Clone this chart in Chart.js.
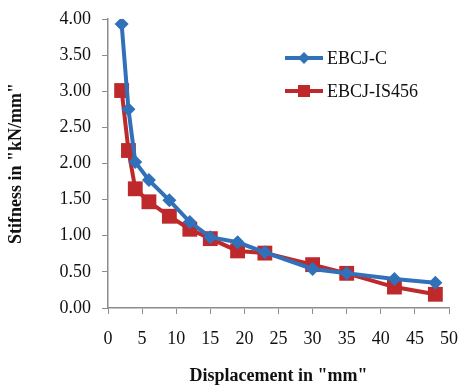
<!DOCTYPE html>
<html>
<head>
<meta charset="utf-8">
<script src="https://cdn.jsdelivr.net/npm/chart.js@4.4.1/dist/chart.umd.min.js"></script>
<style>
  html, body { margin: 0; padding: 0; background: #fff; }
  #wrap { width: 463px; height: 390px; position: relative; }
</style>
</head>
<body>
<div id="wrap"><canvas id="stiffCanvas"></canvas></div>
<script>
const displacement = [2, 3, 4, 6, 9, 12, 15, 19, 23, 30, 35, 42, 48]
const stiffnessC = [3.93, 2.75, 2.02, 1.77, 1.49, 1.19, 0.98, 0.91, 0.77, 0.54, 0.48, 0.40, 0.35]
const stiffnessIS = [3.01, 2.18, 1.65, 1.47, 1.27, 1.09, 0.96, 0.79, 0.76, 0.60, 0.48, 0.29, 0.19]
const seriesNames = ["EBCJ-C", "EBCJ-IS456"]

const blue = "#3071BA"
const red = "#BE2A2C"
const serif = "'Liberation Serif', 'Times New Roman', serif"

// legend drawn inside the plot, top right
const innerLegend = {
    id: "innerLegend",
    afterDraw(chart) {
        const ctx = chart.ctx
        const rows = [{ y: 58, ds: chart.data.datasets[0] }, { y: 91, ds: chart.data.datasets[1] }]
        ctx.save()
        rows.forEach(r => {
            ctx.strokeStyle = r.ds.borderColor
            ctx.lineWidth = 4
            ctx.beginPath()
            ctx.moveTo(285, r.y)
            ctx.lineTo(323, r.y)
            ctx.stroke()
            ctx.fillStyle = r.ds.backgroundColor
            ctx.beginPath()
            if (r.ds.pointStyle === "rectRot") {
                ctx.moveTo(304, r.y - 6)
                ctx.lineTo(310, r.y)
                ctx.lineTo(304, r.y + 6)
                ctx.lineTo(298, r.y)
            } else {
                ctx.rect(298, r.y - 6, 12, 12)
            }
            ctx.fill()
            ctx.fillStyle = "#111"
            ctx.font = "18px " + serif
            ctx.textBaseline = "middle"
            ctx.fillText(r.ds.label, 327, r.y + 1)
        })
        ctx.restore()
    }
}

const stiffCanvas = document.getElementById("stiffCanvas")

const stiffChart = new Chart(stiffCanvas, {
    type: "line",
    data: {
        datasets: [{
            label: seriesNames[0],
            data: displacement.map((d, i) => ({ x: d, y: stiffnessC[i] })),
            borderColor: blue,
            backgroundColor: blue,
            borderWidth: 4,
            pointStyle: "rectRot",
            pointRadius: 7,
            pointBorderWidth: 0,
            tension: 0
        }, {
            label: seriesNames[1],
            data: displacement.map((d, i) => ({ x: d, y: stiffnessIS[i] })),
            borderColor: red,
            backgroundColor: red,
            borderWidth: 4,
            pointStyle: "rect",
            pointRadius: 10.5,
            pointBorderWidth: 0,
            tension: 0
        }]
    },
    options: {
        responsive: true,
        maintainAspectRatio: false,
        animation: false,
        layout: { padding: { left: 6, right: 14, top: 19, bottom: 2 } },
        plugins: {
            legend: { display: false },
            tooltip: { enabled: false }
        },
        scales: {
            x: {
                type: "linear",
                min: 0,
                max: 50,
                afterFit: s => { s.height = 80; s.paddingRight = 0; s.paddingLeft = 0 },
                ticks: {
                    stepSize: 5,
                    padding: 14,
                    color: "#111",
                    font: { family: serif, size: 18 }
                },
                grid: { display: true, drawOnChartArea: false, drawTicks: true, tickLength: 6, color: "#8c8c8c" },
                border: { color: "#8c8c8c", width: 1.5 },
                title: {
                    display: true,
                    text: 'Displacement in "mm"',
                    color: "#111",
                    font: { family: serif, size: 18, weight: "bold" },
                    padding: { top: 8, bottom: 1 }
                }
            },
            y: {
                min: 0,
                max: 4,
                afterFit: s => { s.width = 102; s.paddingTop = 0; s.paddingBottom = 0 },
                ticks: {
                    stepSize: 0.5,
                    padding: 11,
                    color: "#111",
                    font: { family: serif, size: 18 },
                    callback: v => v.toFixed(2)
                },
                grid: { display: true, drawOnChartArea: false, drawTicks: true, tickLength: 6, color: "#8c8c8c" },
                border: { color: "#8c8c8c", width: 1.5 },
                title: {
                    display: true,
                    text: 'Stifness in "kN/mm"',
                    color: "#111",
                    font: { family: serif, size: 18, weight: "bold" },
                    padding: { top: 0, bottom: 6 }
                }
            }
        }
    },
    plugins: [innerLegend]
})
</script>
</body>
</html>
